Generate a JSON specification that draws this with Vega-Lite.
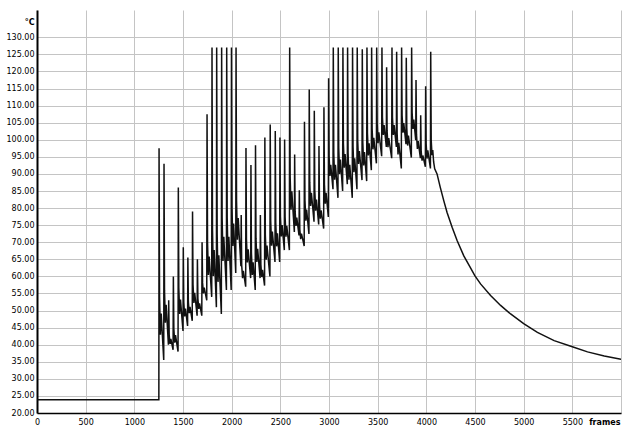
{
"$schema": "https://vega.github.io/schema/vega-lite/v6.json",
"width": 584, "height": 403,
"autosize": {"type": "none"},
"padding": {"left": 37, "top": 10, "right": 2, "bottom": 14},
"background": "white",
"config": {"view": {"stroke": null}},
"layer": [
{
"data": {"values": [
{"f":0,"t":23.9},{"f":1252,"t":23.9},
{"f":1254,"t":97.5},{"f":1259,"t":54.1},{"f":1268,"t":42.9},{"f":1276,"t":49.1},{"f":1302,"t":35.5},
{"f":1305,"t":93},{"f":1310,"t":55.9},{"f":1319,"t":46.4},{"f":1327,"t":51.7},{"f":1350,"t":40},
{"f":1353,"t":53},{"f":1358,"t":42.9},{"f":1367,"t":40.2},{"f":1375,"t":41.7},{"f":1398,"t":38.5},
{"f":1401,"t":60},{"f":1406,"t":44.6},{"f":1415,"t":40.6},{"f":1423,"t":42.8},{"f":1449,"t":38},
{"f":1452,"t":86},{"f":1457,"t":56.6},{"f":1466,"t":49},{"f":1474,"t":53.2},{"f":1500,"t":44},
{"f":1503,"t":68.5},{"f":1508,"t":52.4},{"f":1517,"t":48.3},{"f":1525,"t":50.6},{"f":1547,"t":45.5},
{"f":1550,"t":65.5},{"f":1555,"t":52.6},{"f":1564,"t":49.2},{"f":1572,"t":51.1},{"f":1595,"t":47},
{"f":1598,"t":79},{"f":1603,"t":57.7},{"f":1612,"t":52.2},{"f":1620,"t":55.2},{"f":1645,"t":48.5},
{"f":1648,"t":65},{"f":1653,"t":53.5},{"f":1662,"t":50.5},{"f":1670,"t":52.1},{"f":1693,"t":48.5},
{"f":1696,"t":70},{"f":1701,"t":58.1},{"f":1710,"t":55},{"f":1718,"t":56.7},{"f":1744,"t":53},
{"f":1747,"t":107.5},{"f":1752,"t":70.1},{"f":1761,"t":60.4},{"f":1769,"t":65.8},{"f":1795,"t":54},
{"f":1798,"t":127},{"f":1803,"t":73.8},{"f":1812,"t":60.1},{"f":1820,"t":67.7},{"f":1843,"t":51},
{"f":1846,"t":127},{"f":1851,"t":72.4},{"f":1860,"t":58.4},{"f":1868,"t":66.2},{"f":1894,"t":49},
{"f":1897,"t":127},{"f":1902,"t":77.3},{"f":1911,"t":64.5},{"f":1919,"t":71.6},{"f":1946,"t":56},
{"f":1949,"t":127},{"f":1954,"t":77.3},{"f":1963,"t":64.5},{"f":1971,"t":71.6},{"f":1995,"t":56},
{"f":1998,"t":127},{"f":2003,"t":80.8},{"f":2012,"t":68.9},{"f":2020,"t":75.5},{"f":2042,"t":61},
{"f":2045,"t":127},{"f":2050,"t":82.2},{"f":2059,"t":70.7},{"f":2067,"t":77.1},{"f":2095,"t":63},
{"f":2098,"t":78},{"f":2103,"t":63.3},{"f":2112,"t":59.5},{"f":2120,"t":61.6},{"f":2144,"t":57},
{"f":2147,"t":97.6},{"f":2152,"t":70.9},{"f":2161,"t":64.1},{"f":2169,"t":67.9},{"f":2195,"t":59.5},
{"f":2198,"t":92.6},{"f":2203,"t":67},{"f":2212,"t":60.4},{"f":2220,"t":64.1},{"f":2242,"t":56},
{"f":2245,"t":98.4},{"f":2250,"t":71.2},{"f":2259,"t":64.2},{"f":2267,"t":68.1},{"f":2292,"t":59.5},
{"f":2295,"t":78},{"f":2300,"t":63.5},{"f":2309,"t":59.8},{"f":2317,"t":61.9},{"f":2338,"t":57.3},
{"f":2341,"t":100.7},{"f":2346,"t":72.2},{"f":2355,"t":64.9},{"f":2363,"t":69},{"f":2393,"t":60},
{"f":2396,"t":104.5},{"f":2401,"t":76.3},{"f":2410,"t":69},{"f":2418,"t":73.1},{"f":2445,"t":64.2},
{"f":2448,"t":102.6},{"f":2453,"t":75.7},{"f":2462,"t":68.8},{"f":2470,"t":72.6},{"f":2493,"t":64.2},
{"f":2496,"t":100.7},{"f":2501,"t":77.6},{"f":2510,"t":71.7},{"f":2518,"t":75},{"f":2541,"t":67.7},
{"f":2544,"t":100.1},{"f":2549,"t":77.4},{"f":2558,"t":71.6},{"f":2566,"t":74.8},{"f":2593,"t":67.7},
{"f":2596,"t":127},{"f":2601,"t":89.2},{"f":2610,"t":79.5},{"f":2618,"t":84.9},{"f":2644,"t":73},
{"f":2647,"t":95.7},{"f":2652,"t":79.1},{"f":2661,"t":74.8},{"f":2669,"t":77.2},{"f":2692,"t":72},
{"f":2695,"t":85.2},{"f":2700,"t":73.8},{"f":2709,"t":70.9},{"f":2717,"t":72.5},{"f":2745,"t":68.9},
{"f":2748,"t":105.3},{"f":2753,"t":82.3},{"f":2762,"t":76.3},{"f":2770,"t":79.6},{"f":2794,"t":72.4},
{"f":2797,"t":114.7},{"f":2802,"t":87.6},{"f":2811,"t":80.6},{"f":2819,"t":84.5},{"f":2846,"t":76},
{"f":2849,"t":108.5},{"f":2854,"t":85.2},{"f":2863,"t":79.2},{"f":2871,"t":82.5},{"f":2894,"t":75.2},
{"f":2897,"t":98.2},{"f":2902,"t":81.3},{"f":2911,"t":76.9},{"f":2919,"t":79.3},{"f":2945,"t":74},
{"f":2948,"t":109.5},{"f":2953,"t":87},{"f":2962,"t":81.3},{"f":2970,"t":84.5},{"f":2993,"t":77.4},
{"f":2996,"t":118},{"f":3001,"t":95.3},{"f":3010,"t":89.4},{"f":3018,"t":92.7},{"f":3041,"t":85.5},
{"f":3044,"t":127},{"f":3049,"t":96.2},{"f":3058,"t":88.3},{"f":3066,"t":92.7},{"f":3092,"t":83},
{"f":3095,"t":127},{"f":3100,"t":97.6},{"f":3109,"t":90},{"f":3117,"t":94.2},{"f":3140,"t":85},
{"f":3143,"t":127},{"f":3148,"t":99},{"f":3157,"t":91.8},{"f":3165,"t":95.8},{"f":3188,"t":87},
{"f":3191,"t":127},{"f":3196,"t":96.2},{"f":3205,"t":88.3},{"f":3213,"t":92.7},{"f":3239,"t":83},
{"f":3242,"t":127},{"f":3247,"t":98},{"f":3256,"t":90.5},{"f":3264,"t":94.6},{"f":3287,"t":85.5},
{"f":3290,"t":127},{"f":3295,"t":99.8},{"f":3304,"t":92.9},{"f":3312,"t":96.7},{"f":3339,"t":88.2},
{"f":3342,"t":126.5},{"f":3347,"t":99.5},{"f":3356,"t":92.5},{"f":3364,"t":96.4},{"f":3387,"t":87.9},
{"f":3390,"t":127},{"f":3395,"t":101.9},{"f":3404,"t":95.4},{"f":3412,"t":99},{"f":3435,"t":91.1},
{"f":3438,"t":127},{"f":3443,"t":103.3},{"f":3452,"t":97.2},{"f":3460,"t":100.6},{"f":3487,"t":93.1},
{"f":3490,"t":127},{"f":3495,"t":104.7},{"f":3504,"t":99},{"f":3512,"t":102.2},{"f":3541,"t":95.2},
{"f":3544,"t":127},{"f":3549,"t":106.6},{"f":3558,"t":101.4},{"f":3566,"t":104.3},{"f":3589,"t":97.9},
{"f":3592,"t":121.2},{"f":3597,"t":102.6},{"f":3606,"t":97.8},{"f":3614,"t":100.5},{"f":3644,"t":94.6},
{"f":3647,"t":127},{"f":3652,"t":106.6},{"f":3661,"t":101.4},{"f":3669,"t":104.3},{"f":3692,"t":97.9},
{"f":3695,"t":125.8},{"f":3700,"t":101.9},{"f":3709,"t":95.7},{"f":3717,"t":99.1},{"f":3743,"t":91.6},
{"f":3746,"t":127},{"f":3751,"t":107.2},{"f":3760,"t":102.1},{"f":3768,"t":104.9},{"f":3791,"t":98.7},
{"f":3794,"t":124},{"f":3799,"t":103.6},{"f":3808,"t":98.3},{"f":3816,"t":101.2},{"f":3846,"t":94.8},
{"f":3849,"t":127},{"f":3854,"t":108},{"f":3863,"t":103.2},{"f":3871,"t":105.9},{"f":3891,"t":99.9},
{"f":3894,"t":117.5},{"f":3899,"t":101.5},{"f":3908,"t":97.3},{"f":3916,"t":99.6},{"f":3939,"t":94.6},
{"f":3942,"t":107.2},{"f":3947,"t":96.6},{"f":3956,"t":93.9},{"f":3964,"t":95.4},{"f":3990,"t":92.1},
{"f":3993,"t":115.7},{"f":3998,"t":98.8},{"f":4007,"t":94.5},{"f":4015,"t":96.9},{"f":4042,"t":91.6},
{"f":4045,"t":125.8},{"f":4050,"t":100},{"f":4058,"t":95.5},{"f":4066,"t":97},{"f":4075,"t":93.5},{"f":4086,"t":91.5},
{"f":4110,"t":90},{"f":4144,"t":86},{"f":4179,"t":82.2},{"f":4213,"t":78.7},{"f":4265,"t":74.4},{"f":4316,"t":70.5},
{"f":4385,"t":66},{"f":4454,"t":62.5},{"f":4498,"t":60.2},{"f":4557,"t":57.8},{"f":4660,"t":54.4},{"f":4763,"t":51.5},
{"f":4866,"t":49},{"f":5000,"t":46.2},{"f":5141,"t":43.6},{"f":5313,"t":41.2},{"f":5500,"t":39.4},{"f":5656,"t":37.9},
{"f":5828,"t":36.7},{"f":6000,"t":35.7},{"f":6030,"t":35.5}
]},
"mark": {"type": "line", "color": "#111111", "strokeWidth": 1.5, "clip": true},
"encoding": {
"x": {"field": "f", "type": "quantitative",
 "scale": {"domain": [0, 6000], "nice": false, "zero": false},
 "axis": {"values": [0,500,1000,1500,2000,2500,3000,3500,4000,4500,5000,5500,6000],
  "labelExpr": "datum.value == 6000 ? '' : datum.label", "labelOverlap": false, "labelFlush": false,
  "format": "d", "grid": true, "gridColor": "#c4c4c4", "gridWidth": 1,
  "domainColor": "#000000", "domainWidth": 1.5, "ticks": false, "labelPadding": 5,
  "labelFont": "DejaVu Sans", "labelFontSize": 8, "labelColor": "#000000",
  "title": "frames", "titleFont": "DejaVu Sans", "titleFontSize": 8, "titleFontWeight": "bold",
  "titleColor": "#000000", "titleAlign": "right", "titleX": 583, "titleY": 5, "titleBaseline": "top"}},
"y": {"field": "t", "type": "quantitative",
 "scale": {"domain": [20, 138], "nice": false, "zero": false},
 "axis": {"values": [20,25,30,35,40,45,50,55,60,65,70,75,80,85,90,95,100,105,110,115,120,125,130],
  "labelOverlap": false, "labelFlush": false,
  "format": ".2f", "grid": true, "gridColor": "#c4c4c4", "gridWidth": 1,
  "domainColor": "#000000", "domainWidth": 2, "ticks": false, "labelPadding": 3,
  "labelFont": "DejaVu Sans", "labelFontSize": 8, "labelColor": "#000000",
  "title": "°C", "titleFont": "DejaVu Sans", "titleFontSize": 8, "titleFontWeight": "bold",
  "titleColor": "#000000", "titleAngle": 0, "titleAlign": "right", "titleBaseline": "alphabetic",
  "titleX": -3, "titleY": 14}}
}
},
{
"mark": {"type": "point", "shape": "triangle-up", "filled": true, "color": "#000000", "size": 25, "opacity": 1, "clip": false},
"encoding": {
"x": {"datum": 0, "type": "quantitative",
 "axis": {"values": [0,500,1000,1500,2000,2500,3000,3500,4000,4500,5000,5500,6000],
  "labelExpr": "datum.value == 6000 ? '' : datum.label", "labelOverlap": false, "labelFlush": false,
  "format": "d", "grid": true, "gridColor": "#c4c4c4", "gridWidth": 1,
  "domainColor": "#000000", "domainWidth": 1.5, "ticks": false, "labelPadding": 5,
  "labelFont": "DejaVu Sans", "labelFontSize": 8, "labelColor": "#000000",
  "title": "frames", "titleFont": "DejaVu Sans", "titleFontSize": 8, "titleFontWeight": "bold",
  "titleColor": "#000000", "titleAlign": "right", "titleX": 583, "titleY": 5, "titleBaseline": "top"}},
"y": {"datum": 137.3, "type": "quantitative",
 "axis": {"values": [20,25,30,35,40,45,50,55,60,65,70,75,80,85,90,95,100,105,110,115,120,125,130],
  "labelOverlap": false, "labelFlush": false,
  "format": ".2f", "grid": true, "gridColor": "#c4c4c4", "gridWidth": 1,
  "domainColor": "#000000", "domainWidth": 2, "ticks": false, "labelPadding": 3,
  "labelFont": "DejaVu Sans", "labelFontSize": 8, "labelColor": "#000000",
  "title": "°C", "titleFont": "DejaVu Sans", "titleFontSize": 8, "titleFontWeight": "bold",
  "titleColor": "#000000", "titleAngle": 0, "titleAlign": "right", "titleBaseline": "alphabetic",
  "titleX": -3, "titleY": 14}}
}
}
]
}
